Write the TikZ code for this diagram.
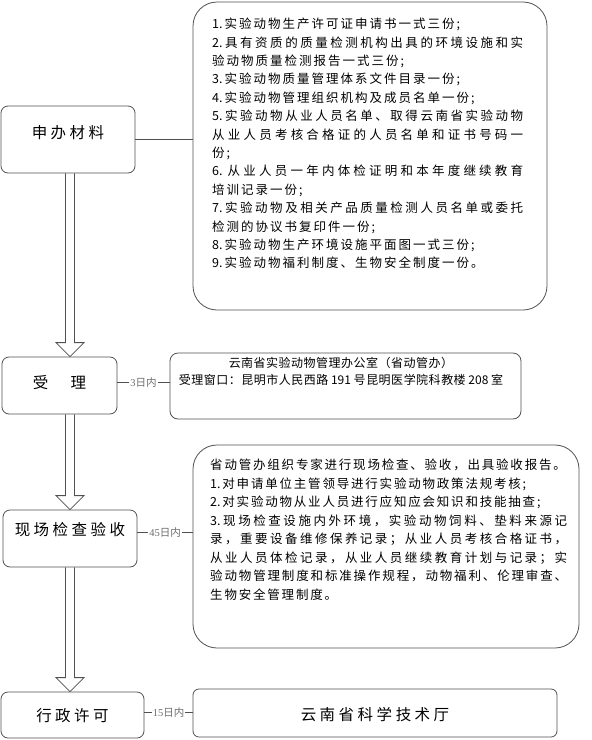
\documentclass[tikz,border=0pt]{standalone}
\usepackage{fontspec}
\setmainfont{Noto Sans CJK SC}
\newfontfamily\daynum{Liberation Serif}
\usetikzlibrary{calc}
\definecolor{boxgray}{HTML}{505050}
\definecolor{daygray}{HTML}{6E6E6E}
% stretchable glue between Chinese characters
\newXeTeXintercharclass\cjkcls
\newdimen\cjksep
\makeatletter
\count@="4E00 \loop\XeTeXcharclass\count@=\cjkcls\advance\count@\@ne\ifnum\count@<"A000 \repeat
\count@="3000 \loop\XeTeXcharclass\count@=\cjkcls\advance\count@\@ne\ifnum\count@<"3040 \repeat
\count@="FF00 \loop\XeTeXcharclass\count@=\cjkcls\advance\count@\@ne\ifnum\count@<"FF60 \repeat
\makeatother
\XeTeXinterchartoks\cjkcls\cjkcls={\nobreak\hskip\cjksep plus .3em\relax}
\XeTeXinterchartoks 0 \cjkcls={\nobreak\hskip\cjksep plus .3em\relax}
\XeTeXinterchartoks\cjkcls 0 ={\nobreak\hskip\cjksep plus .3em\relax}
\XeTeXinterchartokenstate=1
\begin{document}
\begin{tikzpicture}[x=1pt,y=-1pt,
    box/.style={draw=boxgray,line width=.8pt,rounded corners=7pt,inner sep=0pt},
    bigbox/.style={draw=boxgray,line width=.8pt,rounded corners=24pt,inner sep=0pt},
    stage/.style={font=\fontsize{15.5}{18}\selectfont\setlength\cjksep{3.5pt}},
    note/.style={anchor=north west,inner sep=0pt,align=justify,font=\fontsize{12.5}{18.4}\selectfont\setlength\cjksep{2pt}},
    days/.style={midway,fill=white,inner sep=1pt,text=daygray,font=\fontsize{10.5}{12}\selectfont},
    link/.style={draw=boxgray,line width=.8pt},
    hollow/.style={draw=boxgray,line width=.8pt,line join=miter}]
  \useasboundingbox (0,0) rectangle (592,740);
  \coordinate (ax) at (70,0);
  % steps on the left
  \node[box,minimum width=134pt,minimum height=67pt](mat)at(68,139.5){};
  \node[stage](matt)at([yshift=6.5pt]mat.center){申办材料};
  \node[box,minimum width=115pt,minimum height=57pt](acc)at(59.5,385.5){};
  \node[stage](acct)at([yshift=2.5pt]acc.center){受　理};
  \node[box,minimum width=134pt,minimum height=57pt](chk)at(70,538.5){};
  \node[stage](chkt)at([yshift=8.5pt]chk.center){现场检查验收};
  \node[box,minimum width=143pt,minimum height=46pt](lic)at(72.5,715){};
  \node[stage](lict)at([yshift=-1pt]lic.center){行政许可};
  % boxes on the right
  \node[bigbox,minimum width=354pt,minimum height=308pt](docs)at(370,156){};
  \node[note,text width=311pt](docst)at(212,18){1.实验动物生产许可证申请书一式三份;\\
    2.具有资质的质量检测机构出具的环境设施和实\linebreak 验动物质量检测报告一式三份;\\
    3.实验动物质量管理体系文件目录一份;\\
    4.实验动物管理组织机构及成员名单一份;\\
    5.实验动物从业人员名单、取得云南省实验动物\linebreak 从业人员考核合格证的人员名单和证书号码一\linebreak 份;\\
    6. 从业人员一年内体检证明和本年度继续教育\linebreak 培训记录一份;\\
    7.实验动物及相关产品质量检测人员名单或委托\linebreak 检测的协议书复印件一份;\\
    8.实验动物生产环境设施平面图一式三份;\\
    9.实验动物福利制度、生物安全制度一份。};
  \node[box,rounded corners=8pt,minimum width=351pt,minimum height=66pt](office)at(345.5,386){};
  \node[anchor=north,inner sep=0pt,align=center,font=\fontsize{12}{17.5}\selectfont\setlength\cjksep{.5pt}](officet)at(341,357){云南省实验动物管理办公室（省动管办）\\受理窗口：昆明市人民西路 191 号昆明医学院科教楼 208 室};
  \node[bigbox,minimum width=386pt,minimum height=203pt](insp)at(386,546.5){};
  \node[note,text width=357pt,font=\fontsize{12.5}{18.5}\selectfont\setlength\cjksep{1.8pt}](inspt)at(210,459){省动管办组织专家进行现场检查、验收，出具验收报告。\\
    1.对申请单位主管领导进行实验动物政策法规考核;\\
    2.对实验动物从业人员进行应知应会知识和技能抽查;\\
    3.现场检查设施内外环境，实验动物饲料、垫料来源记\linebreak 录，重要设备维修保养记录；从业人员考核合格证书，\linebreak 从业人员体检记录，从业人员继续教育计划与记录；实\linebreak 验动物管理制度和标准操作规程，动物福利、伦理审查、\linebreak 生物安全管理制度。};
  \node[box,rounded corners=6pt,minimum width=364pt,minimum height=48pt](dept)at(375,713){};
  \node[stage](deptt)at([yshift=-2pt]dept.center){云南省科学技术厅};
  % connectors
  \draw[link](mat.east)--(mat.east -| docs.west);
  \draw[link](acc.3)--(acc.3 -| office.west) node[days]{{\daynum 3}日内};
  \draw[link](chk.5)--(chk.5 -| insp.west) node[days]{{\daynum 45}日内};
  \draw[link](lic.2)--(lic.2 -| dept.west) node[days]{{\daynum 15}日内};
  % hollow arrows down the left
  \draw[hollow]($(mat.south -| ax)+(-4.5,0)$)--($(acc.north -| ax)+(-4.5,-14)$)--++(-9.5,0)--(acc.north -| ax)--++(14,-14)--++(-9.5,0)--($(mat.south -| ax)+(4.5,0)$);
  \draw[hollow]($(acc.south -| ax)+(-4.5,0)$)--($(chk.north -| ax)+(-4.5,-14)$)--++(-9.5,0)--(chk.north -| ax)--++(14,-14)--++(-9.5,0)--($(acc.south -| ax)+(4.5,0)$);
  \draw[hollow]($(chk.south -| ax)+(-4.5,0)$)--($(lic.north -| ax)+(-4.5,-14)$)--++(-9.5,0)--(lic.north -| ax)--++(14,-14)--++(-9.5,0)--($(chk.south -| ax)+(4.5,0)$);
\end{tikzpicture}
\end{document}
